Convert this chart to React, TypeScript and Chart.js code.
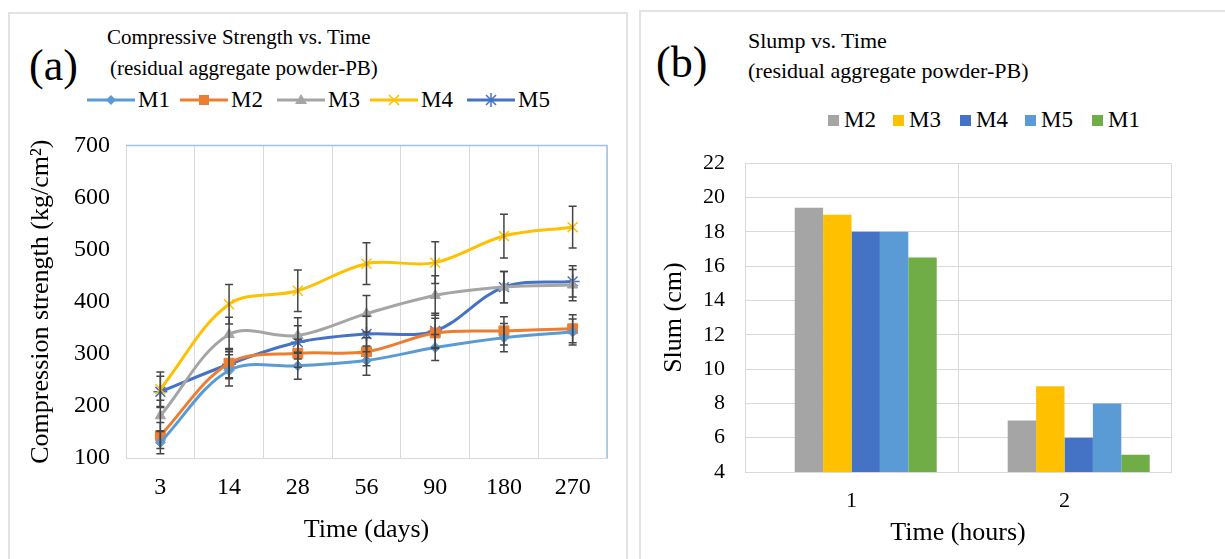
import React, { useEffect, useRef } from "react";
import { Chart, registerables } from "chart.js";

Chart.register(...registerables);

// ---------- Data: (a) Compressive strength vs time ----------
const dayLabels = ["3", "14", "28", "56", "90", "180", "270"];
const m1Strength = [130, 268, 277, 287, 312, 331, 342];
const m2Strength = [143, 282, 301, 304, 340, 344, 348];
const m3Strength = [181, 337, 335, 377, 412, 428, 432];
const m4Strength = [232, 395, 421, 473, 475, 526, 543];
const m5Strength = [227, 280, 322, 338, 344, 428, 439];
const m1Error = [22, 30, 26, 28, 25, 27, 25];
const m2Error = [25, 28, 27, 27, 28, 27, 27];
const m3Error = [30, 33, 34, 35, 38, 30, 30];
const m4Error = [33, 38, 40, 40, 40, 42, 40];
const m5Error = [30, 28, 32, 34, 34, 30, 30];
const strengthMin = 100;
const strengthMax = 700;
const strengthStep = 100;

// ---------- Data: (b) Slump vs time ----------
const hourLabels = ["1", "2"];
const blankSlump = [null, null]; // empty first series slot (as in the original chart)
const m2Slump = [19.4, 7];
const m3Slump = [19, 9];
const m4Slump = [18, 6];
const m5Slump = [18, 8];
const m1Slump = [16.5, 5];
const slumpMin = 4;
const slumpMax = 22;
const slumpStep = 2;

const SERIF = "'Liberation Serif', 'Times New Roman', serif";

const C_M1 = "#5b9bd5";
const C_M2 = "#ed7d31";
const C_M3 = "#a5a5a5";
const C_M4 = "#ffc000";
const C_M5 = "#4472c4";
const C_GREEN = "#70ad47";
const GRID = "#d9d9d9";

const strengthErrors = [m1Error, m2Error, m3Error, m4Error, m5Error];

const errorBarPlugin = {
  id: "errorBars",
  afterDatasetsDraw(chart: any) {
    const ctx = chart.ctx;
    const y = chart.scales.y;
    ctx.save();
    ctx.strokeStyle = "#454545";
    ctx.lineWidth = 1.5;
    chart.data.datasets.forEach((ds: any, i: number) => {
      const meta = chart.getDatasetMeta(i);
      const errs = strengthErrors[i];
      meta.data.forEach((pt: any, j: number) => {
        const v = ds.data[j];
        const e = errs[j];
        const yt = y.getPixelForValue(v + e);
        const yb = y.getPixelForValue(v - e);
        ctx.beginPath();
        ctx.moveTo(pt.x, yt);
        ctx.lineTo(pt.x, yb);
        ctx.moveTo(pt.x - 4, yt);
        ctx.lineTo(pt.x + 4, yt);
        ctx.moveTo(pt.x - 4, yb);
        ctx.lineTo(pt.x + 4, yb);
        ctx.stroke();
      });
    });
    ctx.restore();
  },
};

const blueFramePlugin = {
  id: "blueFrame",
  beforeDatasetsDraw(chart: any) {
    const { left, right, top, bottom } = chart.chartArea;
    const ctx = chart.ctx;
    ctx.save();
    ctx.strokeStyle = "#9dc3e6";
    ctx.lineWidth = 1.5;
    ctx.beginPath();
    ctx.moveTo(left, top);
    ctx.lineTo(right, top);
    ctx.lineTo(right, bottom);
    ctx.stroke();
    ctx.restore();
  },
};

function lineDs(label: string, data: number[], color: string, style: string, radius: number) {
  return {
    label,
    data,
    borderColor: color,
    backgroundColor: color,
    borderWidth: 3,
    tension: 0.35,
    pointStyle: style,
    pointRadius: radius,
    pointBorderWidth: style === "crossRot" || style === "star" ? 1.5 : 1,
    pointBackgroundColor: color,
    pointBorderColor: color,
  };
}

function StrengthChart() {
  const ref = useRef<HTMLCanvasElement>(null);
  useEffect(() => {
    const chart = new Chart(ref.current as HTMLCanvasElement, {
      type: "line",
      data: {
        labels: dayLabels,
        datasets: [
          lineDs("M1", m1Strength, C_M1, "rectRot", 5),
          lineDs("M2", m2Strength, C_M2, "rect", 7),
          lineDs("M3", m3Strength, C_M3, "triangle", 6),
          lineDs("M4", m4Strength, C_M4, "crossRot", 7),
          lineDs("M5", m5Strength, C_M5, "star", 7),
        ] as any,
      },
      options: {
        animation: false,
        responsive: false,
        maintainAspectRatio: false,
        layout: { padding: { left: 0, right: 13, top: 26, bottom: 0 } },
        plugins: { legend: { display: false }, tooltip: { enabled: false } },
        scales: {
          x: {
            type: "category",
            offset: true,
            grid: { display: true, offset: true, color: GRID, drawTicks: false, lineWidth: 1 },
            border: { display: true, color: GRID },
            ticks: { color: "#000", font: { family: SERIF, size: 24 }, padding: 15 },
            title: {
              display: true,
              text: "Time (days)",
              color: "#000",
              font: { family: SERIF, size: 26 },
              padding: { top: 0, bottom: 9 },
            },
            afterFit: (s: any) => {
              s.height = 97;
            },
          },
          y: {
            min: strengthMin,
            max: strengthMax,
            ticks: { stepSize: strengthStep, color: "#000", font: { family: SERIF, size: 24 }, padding: 16 },
            grid: { display: false, drawTicks: false },
            border: { display: true, color: GRID },
            title: {
              display: true,
              text: "Compression strength (kg/cm²)",
              color: "#000",
              font: { family: SERIF, size: 26 },
              padding: { top: 16, bottom: 0 },
            },
            afterFit: (s: any) => {
              s.width = 116;
            },
          },
        },
      } as any,
      plugins: [blueFramePlugin, errorBarPlugin],
    });
    return () => chart.destroy();
  }, []);
  return (
    <canvas
      ref={ref}
      width={610}
      height={440}
      style={{ position: "absolute", left: 10, top: 115, width: 610, height: 440 }}
    />
  );
}

function barDs(label: string, data: (number | null)[], color: string) {
  return {
    label,
    data,
    backgroundColor: color,
    borderWidth: 0,
    barPercentage: 1,
    categoryPercentage: 0.8,
  };
}

function SlumpChart() {
  const ref = useRef<HTMLCanvasElement>(null);
  useEffect(() => {
    const chart = new Chart(ref.current as HTMLCanvasElement, {
      type: "bar",
      data: {
        labels: hourLabels,
        datasets: [
          barDs("", blankSlump, "rgba(0,0,0,0)"),
          barDs("M2", m2Slump, C_M3),
          barDs("M3", m3Slump, C_M4),
          barDs("M4", m4Slump, C_M5),
          barDs("M5", m5Slump, C_M1),
          barDs("M1", m1Slump, C_GREEN),
        ] as any,
      },
      options: {
        animation: false,
        responsive: false,
        maintainAspectRatio: false,
        layout: { padding: { left: 0, right: 49, top: 26, bottom: 0 } },
        plugins: { legend: { display: false }, tooltip: { enabled: false } },
        scales: {
          x: {
            type: "category",
            grid: { display: true, offset: true, color: GRID, drawTicks: false },
            border: { display: true, color: GRID },
            ticks: { color: "#000", font: { family: SERIF, size: 22 }, padding: 16 },
            title: {
              display: true,
              text: "Time (hours)",
              color: "#000",
              font: { family: SERIF, size: 26 },
              padding: { top: 0, bottom: 6 },
            },
            afterFit: (s: any) => {
              s.height = 83;
            },
          },
          y: {
            min: slumpMin,
            max: slumpMax,
            ticks: { stepSize: slumpStep, color: "#000", font: { family: SERIF, size: 22 }, padding: 20 },
            grid: { display: true, color: GRID, drawTicks: false },
            border: { display: true, color: GRID },
            title: {
              display: true,
              text: "Slum (cm)",
              color: "#000",
              font: { family: SERIF, size: 26 },
              padding: { top: 19, bottom: 0 },
            },
            afterFit: (s: any) => {
              s.width = 105;
            },
          },
        },
      } as any,
    });
    return () => chart.destroy();
  }, []);
  return (
    <canvas
      ref={ref}
      width={580}
      height={425}
      style={{ position: "absolute", left: 640, top: 130, width: 580, height: 425 }}
    />
  );
}

function Marker({ kind, color }: { kind: string; color: string }) {
  const cx = 24;
  const cy = 10;
  if (kind === "diamond")
    return <polygon points={`${cx},${cy - 5} ${cx + 5},${cy} ${cx},${cy + 5} ${cx - 5},${cy}`} fill={color} />;
  if (kind === "square") return <rect x={cx - 5} y={cy - 5} width={10} height={10} fill={color} />;
  if (kind === "triangle")
    return <polygon points={`${cx},${cy - 6} ${cx + 6},${cy + 4} ${cx - 6},${cy + 4}`} fill={color} />;
  if (kind === "x")
    return (
      <path d={`M${cx - 5} ${cy - 5} L${cx + 5} ${cy + 5} M${cx - 5} ${cy + 5} L${cx + 5} ${cy - 5}`} stroke={color} strokeWidth={1.5} />
    );
  return (
    <path
      d={`M${cx - 5} ${cy - 5} L${cx + 5} ${cy + 5} M${cx - 5} ${cy + 5} L${cx + 5} ${cy - 5} M${cx} ${cy - 7} L${cx} ${cy + 7}`}
      stroke={color}
      strokeWidth={1.5}
    />
  );
}

const lineLegend = [
  { label: "M1", color: C_M1, kind: "diamond", x: 87 },
  { label: "M2", color: C_M2, kind: "square", x: 180 },
  { label: "M3", color: C_M3, kind: "triangle", x: 277 },
  { label: "M4", color: C_M4, kind: "x", x: 370 },
  { label: "M5", color: C_M5, kind: "star", x: 467 },
];

const barLegend = [
  { label: "M2", color: C_M3, x: 828 },
  { label: "M3", color: C_M4, x: 893 },
  { label: "M4", color: C_M5, x: 960 },
  { label: "M5", color: C_M1, x: 1025 },
  { label: "M1", color: C_GREEN, x: 1092 },
];

function Text({ x, y, size, children }: { x: number; y: number; size: number; children: React.ReactNode }) {
  const h = Math.round(size * 1.3);
  return (
    <div
      style={{
        position: "absolute",
        left: x,
        top: y - h / 2,
        height: h,
        lineHeight: `${h}px`,
        fontSize: size,
        fontFamily: SERIF,
        color: "#000",
        whiteSpace: "nowrap",
      }}
    >
      {children}
    </div>
  );
}

export default function App() {
  return (
    <div style={{ position: "absolute", left: 0, top: 0, width: 1225, height: 559, overflow: "hidden", background: "#fff" }}>
      {/* panel frames */}
      <div style={{ position: "absolute", left: 8, top: 12, width: 620, height: 600, border: "2px solid #e3e3e3", boxSizing: "border-box" }} />
      <div style={{ position: "absolute", left: 639, top: 10, width: 620, height: 600, border: "2px solid #e3e3e3", boxSizing: "border-box" }} />

      {/* (a) header */}
      <Text x={29} y={65} size={44}>(a)</Text>
      <Text x={107} y={37} size={21}>Compressive Strength vs. Time</Text>
      <Text x={110} y={68} size={21}>(residual aggregate powder-PB)</Text>
      {lineLegend.map((it) => (
        <div key={it.label} style={{ position: "absolute", left: it.x, top: 90, height: 20 }}>
          <svg width={48} height={20} style={{ position: "absolute", left: 0, top: 0 }}>
            <line x1={0} y1={10} x2={48} y2={10} stroke={it.color} strokeWidth={3} />
            <Marker kind={it.kind} color={it.color} />
          </svg>
          <div
            style={{
              position: "absolute",
              left: 51,
              top: -5,
              height: 30,
              lineHeight: "30px",
              fontSize: 23,
              fontFamily: SERIF,
              color: "#000",
            }}
          >
            {it.label}
          </div>
        </div>
      ))}

      {/* (b) header */}
      <Text x={656} y={62} size={44}>(b)</Text>
      <Text x={748} y={40} size={22}>Slump vs. Time</Text>
      <Text x={748} y={70} size={22}>(residual aggregate powder-PB)</Text>
      {barLegend.map((it) => (
        <div key={it.label} style={{ position: "absolute", left: it.x, top: 110, height: 20 }}>
          <div style={{ position: "absolute", left: 0, top: 5, width: 11, height: 11, background: it.color }} />
          <div
            style={{
              position: "absolute",
              left: 16,
              top: -5,
              height: 30,
              lineHeight: "30px",
              fontSize: 23,
              fontFamily: SERIF,
              color: "#000",
            }}
          >
            {it.label}
          </div>
        </div>
      ))}

      <StrengthChart />
      <SlumpChart />
    </div>
  );
}
